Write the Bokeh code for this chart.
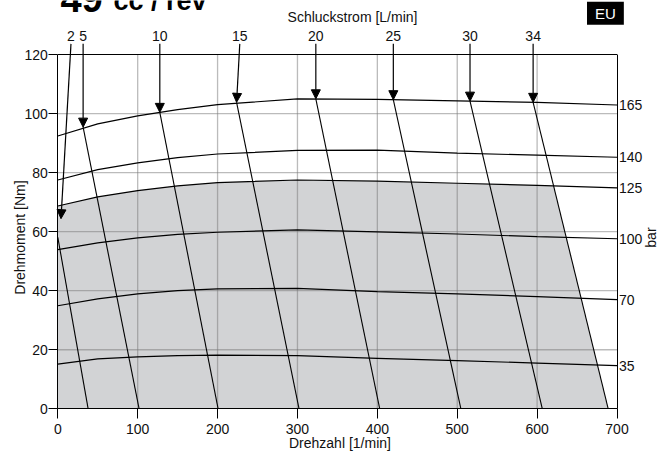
import numpy as np
from bokeh.plotting import figure
from bokeh.models import Range1d, LinearAxis, FixedTicker, Label, Arrow, NormalHead
from bokeh.embed import file_html
from bokeh.resources import INLINE

# ---------------- data ----------------
speed = [0, 50, 100, 150, 200, 300, 400, 500, 600, 700]          # Drehzahl [1/min]
torque_165 = [92.4, 96.5, 99.2, 101.3, 103.0, 105.0, 104.8, 104.3, 103.8, 102.9]
torque_140 = [77.5, 81.0, 83.3, 85.1, 86.3, 87.5, 87.6, 86.6, 85.9, 85.2]
torque_125 = [68.7, 71.8, 73.9, 75.5, 76.6, 77.5, 77.1, 76.4, 75.7, 74.8]
torque_100 = [53.9, 56.2, 57.9, 59.1, 59.8, 60.6, 59.9, 59.2, 58.3, 57.6]
torque_70 = [34.9, 37.2, 38.9, 40.0, 40.6, 40.8, 39.7, 38.9, 38.0, 37.0]
torque_35 = [15.1, 16.9, 17.6, 18.0, 18.2, 18.0, 17.1, 16.3, 15.5, 14.6]
pressure_labels = ["165", "140", "125", "100", "70", "35"]

flow_labels = ["2", "5", "10", "15", "20", "25", "30", "34"]      # Schluckstrom [L/min]
flow_top_x = [0, 31.7, 127.7, 223.8, 323, 420, 516, 595]
flow_top_y = [58.1, 95.4, 100.4, 103.8, 105.0, 104.7, 104.2, 103.8]
flow_bottom_x = [38, 101.8, 200.7, 302, 403, 504.6, 606.5, 689]
arrow_top_x = [16.5, 31.7, 127.7, 227.8, 323, 420, 516, 595]
arrow_tip_x = [4, 31.7, 127.7, 223.8, 323, 420, 516, 595]
arrow_tip_y = [64.4, 95.4, 100.4, 103.8, 105.0, 104.7, 104.2, 103.8]

x_ticks = [0, 100, 200, 300, 400, 500, 600, 700]
y_ticks = [0, 20, 40, 60, 80, 100, 120]

FONT = "Liberation Sans"
curves = [torque_165, torque_140, torque_125, torque_100, torque_70, torque_35]

# ---------------- figure ----------------
# the plot frame fills the whole canvas; axes are placed at fixed data locations
p = figure(width=665, height=455, x_range=Range1d(-71.72, 760.7), y_range=Range1d(-15.82, 138.29),
           output_backend="svg", toolbar_location=None,
           x_axis_location=None, y_axis_location=None,
           min_border_left=0, min_border_right=0, min_border_top=0, min_border_bottom=0)
p.outline_line_color = None
p.grid.visible = False
p.background_fill_color = "white"
p.border_fill_color = "white"

# gray operating area: below 125 bar curve, left of the 34 L/min line
xs_f = np.linspace(0, 700, 7001)
yc = np.interp(xs_f, speed, torque_125)
x34t, y34t, x34b = flow_top_x[-1], flow_top_y[-1], flow_bottom_x[-1]
yl = y34t * (x34b - xs_f) / (x34b - x34t)
i = int(np.argmax(yc >= yl))
xi, yi = xs_f[i], yc[i]
px_ = [x for x in speed if x < xi] + [xi, x34b, 0]
py_ = [y for x, y in zip(speed, torque_125) if x < xi] + [yi, 0, 0]
p.patch(px_, py_, fill_color="#d2d3d5", line_color=None)

# grid lines
gx = x_ticks[1:-1]
gy = y_ticks[1:-1]
p.segment(x0=gx, y0=[0] * len(gx), x1=gx, y1=[120] * len(gx),
          line_color="#777777", line_alpha=0.5, line_width=1.3)
p.segment(x0=[0] * len(gy), y0=gy, x1=[700] * len(gy), y1=gy,
          line_color="#777777", line_alpha=0.5, line_width=1.3)

# top border
p.segment(x0=[x_ticks[0]], y0=[y_ticks[-1]], x1=[x_ticks[-1]], y1=[y_ticks[-1]],
          line_color="black", line_width=1)

# pressure curves
for c in curves:
    p.line(speed, c, line_color="black", line_width=1.2)

# flow lines
p.segment(x0=flow_top_x, y0=flow_top_y, x1=flow_bottom_x, y1=[0] * len(flow_bottom_x),
          line_color="black", line_width=1.1)


def dlabel(x, y, text, size="14px", **kw):
    opts = dict(x=x, y=y, text=text, text_font=FONT, text_font_size=size, text_color="#111111")
    opts.update(kw)
    p.add_layout(Label(**opts))


# arrows and flow labels
for lab, xt, xe, ye in zip(flow_labels, arrow_top_x, arrow_tip_x, arrow_tip_y):
    p.add_layout(Arrow(end=NormalHead(size=9, fill_color="black", line_color="black", line_width=1),
                       x_start=xt, y_start=123.6, x_end=xe, y_end=ye,
                       line_color="black", line_width=1.2))
    dlabel(xt, 126.4, lab, text_align="center", text_baseline="alphabetic")


def style_axis(ax, tick_out, standoff):
    ax.axis_line_color = "black"
    ax.axis_line_width = 1
    ax.major_tick_line_color = "black"
    ax.major_tick_in = 0
    ax.major_tick_out = tick_out
    ax.minor_tick_line_color = None
    ax.major_label_standoff = standoff
    ax.major_label_text_font = FONT
    ax.major_label_text_font_size = "14px"
    ax.major_label_text_color = "#111111"


xa = LinearAxis(fixed_location=0, ticker=FixedTicker(ticks=x_ticks), bounds=(0, 700))
style_axis(xa, 10, 5)
p.add_layout(xa, "below")

ya = LinearAxis(fixed_location=0, ticker=FixedTicker(ticks=y_ticks), bounds=(0, 120))
style_axis(ya, 9, 1)
p.add_layout(ya, "left")

right_ticks = [c[-1] for c in curves]
ra = LinearAxis(fixed_location=700, ticker=FixedTicker(ticks=right_ticks), bounds=(0, 120),
                major_label_overrides={t: l for t, l in zip(right_ticks, pressure_labels)})
style_axis(ra, 0, 2)
p.add_layout(ra, "right")

# axis titles and other texts
dlabel(-47.9, 58, "Drehmoment [Nm]", angle=np.pi / 2, text_align="center", text_baseline="middle")
dlabel(743, 58, "bar", angle=np.pi / 2, text_align="center", text_baseline="middle")
dlabel(353.2, -11.75, "Drehzahl [1/min]", text_align="center", text_baseline="alphabetic")
dlabel(368.9, 132.6, "Schluckstrom [L/min]", text_align="center", text_baseline="alphabetic")
dlabel(3.4, 139.1, "49", size="38px", text_font_style="bold", text_color="black",
       text_align="left", text_baseline="alphabetic")
dlabel(69.8, 138.0, "cc / rev", size="27px", text_font_style="bold", text_color="black",
       text_align="left", text_baseline="alphabetic")
dlabel(685.5, 134.0, "EU", size="15px", text_color="white", text_align="center",
       text_baseline="middle", background_fill_color="black", padding=(8, 3))

open("out.html", "w").write(file_html(p, INLINE))
